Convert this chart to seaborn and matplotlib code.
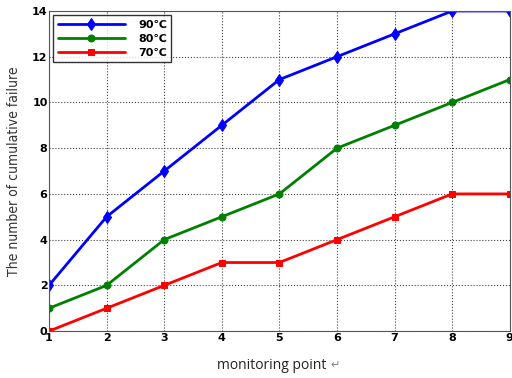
import pandas as pd
import seaborn as sns
from matplotlib import pyplot as plt

POINTS = [1, 2, 3, 4, 5, 6, 7, 8, 9]
T90 = [2, 5, 7, 9, 11, 12, 13, 14, 14]
T80 = [1, 2, 4, 5, 6, 8, 9, 10, 11]
T70 = [0, 1, 2, 3, 3, 4, 5, 6, 6]
LABELS = ['90℃', '80℃', '70℃']

sns.set_style('white')
plt.rcParams['font.family'] = ['DejaVu Sans']

fig = plt.figure(figsize=(5.12, 3.78), dpi=100)
ax = fig.add_axes([0.0957, 0.124, 0.9, 0.847])

styles = [('blue', 'd', 6), ('green', 'o', 5), ('red', 's', 5)]
for vals, label, (color, marker, ms) in zip([T90, T80, T70], LABELS, styles):
    df = pd.DataFrame({'point': POINTS, 'failure': vals})
    sns.lineplot(data=df, x='point', y='failure', ax=ax, color=color,
                 marker=marker, markersize=ms, markeredgecolor=color,
                 linewidth=2, label=label)

ax.set_xlim(1, 9)
ax.set_ylim(0, 14)
ax.set_xticks(POINTS)
ax.set_yticks(range(0, 15, 2))
ax.grid(True, color='#444444', linestyle=':', linewidth=0.8)
ax.tick_params(axis='both', labelsize=8, pad=1, length=0, labelcolor='black')
for t in ax.get_xticklabels() + ax.get_yticklabels():
    t.set_fontweight('bold')
for s in ax.spines.values():
    s.set_color('#555555')

ax.set_xlabel('')
ax.set_ylabel('The number of cumulative failure', fontsize=10,
              color='#333333', fontstretch='condensed', labelpad=8)
fig.text(0.53, 0.025, 'monitoring point', fontsize=10, ha='center',
         family='Open Sans', color='#222222')
fig.text(0.655, 0.025, '↵', fontsize=8, ha='center', color='gray')

leg = ax.legend(loc='upper left', frameon=True, fancybox=False,
                borderaxespad=0.4, handlelength=6, handletextpad=1.2,
                labelspacing=0.35, prop={'weight': 'bold', 'size': 8})
leg.get_frame().set_edgecolor('black')
leg.get_frame().set_linewidth(1)
for t in leg.get_texts():
    t.set_color('black')

fig.savefig('out.png', dpi=100)
